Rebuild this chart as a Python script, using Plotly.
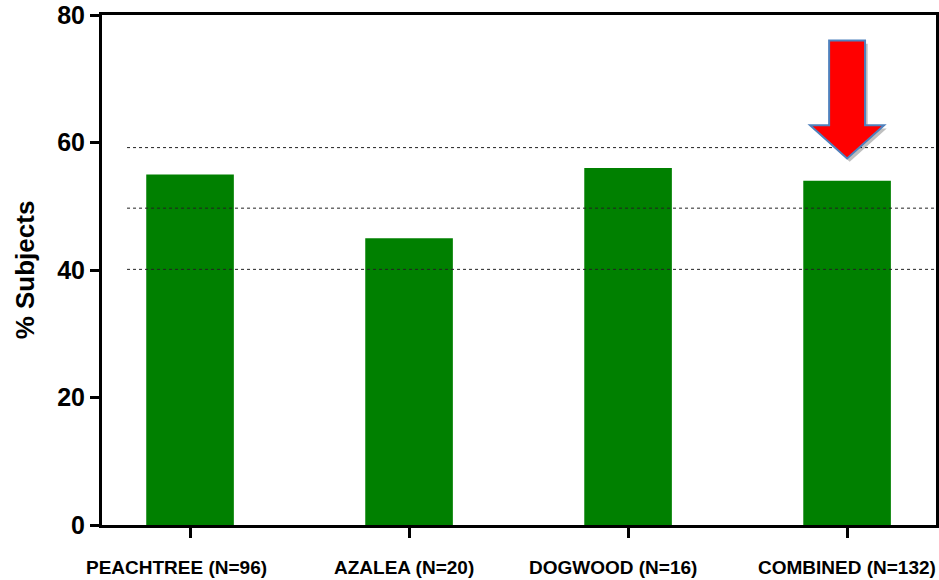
import plotly.graph_objects as go

categories = ["PEACHTREE (N=96)", "AZALEA (N=20)", "DOGWOOD (N=16)", "COMBINED (N=132)"]
values = [55, 45, 56, 54]
ref_lines = [59.2, 49.7, 40.1]
y_ticks = [0, 20, 40, 60, 80]

FONT = "Liberation Sans, Arial, sans-serif"
label_shift_px = [-14, -5, -15, 0]

fig = go.Figure()
fig.add_trace(go.Bar(
    x=list(range(len(categories))), y=values,
    width=0.4, marker=dict(color="#008000", line=dict(width=0)),
))

for v in ref_lines:
    fig.add_shape(type="line", xref="paper", yref="y", x0=0.03, x1=1, y0=v, y1=v,
                  line=dict(color="#222222", width=1, dash="dot"), layer="above")

# category labels (slightly offset as in the original)
for i, (lab, sh) in enumerate(zip(categories, label_shift_px)):
    fig.add_annotation(x=i, xref="x", y=-0.0843, yref="paper", yanchor="middle",
                       text=lab, showarrow=False, xshift=sh,
                       font=dict(size=19, family=FONT, weight="bold", color="black"))

# red arrow above COMBINED bar
cx = 3
sw, hw = 0.082, 0.169
ytop, yneck, ytip = 76.0, 62.7, 57.5
def arrow_path(dx=0.0, dy=0.0):
    pts = [(cx - sw, ytop), (cx + sw, ytop), (cx + sw, yneck), (cx + hw, yneck),
           (cx, ytip), (cx - hw, yneck), (cx - sw, yneck)]
    return "M " + " L ".join(f"{x+dx},{y+dy}" for x, y in pts) + " Z"

fig.add_shape(type="path", xref="x", yref="y", path=arrow_path(0.012, -0.5),
              fillcolor="rgba(0,0,0,0.25)", line=dict(width=0), layer="above")
fig.add_shape(type="path", xref="x", yref="y", path=arrow_path(),
              fillcolor="#ff0000", line=dict(color="#4f81bd", width=2), layer="above")

fig.update_layout(
    width=939, height=580,
    margin=dict(l=102, r=3, t=15, b=55, autoexpand=False),
    paper_bgcolor="white", plot_bgcolor="white",
    showlegend=False,
    font=dict(family=FONT, color="black"),
    xaxis=dict(
        range=[-0.402, 3.406], tickmode="array",
        tickvals=list(range(len(categories))), showticklabels=False,
        showline=True, linecolor="black", linewidth=3, mirror=True,
        ticks="outside", ticklen=10, tickwidth=3, tickcolor="black",
        showgrid=False, zeroline=False, automargin=False,
    ),
    yaxis=dict(
        range=[0, 80], tickvals=y_ticks,
        showline=True, linecolor="black", linewidth=3, mirror=True,
        ticks="outside", ticklen=9, tickwidth=3, tickcolor="black",
        tickfont=dict(size=25, family=FONT, weight="bold"),
        showgrid=False, zeroline=False, automargin=False,
        title=dict(text="% Subjects", font=dict(size=26, family=FONT, weight="bold"), standoff=16),
    ),
)

fig.write_html("out.html", config={"displayModeBar": False},
               post_script="document.body.style.margin='0';")
